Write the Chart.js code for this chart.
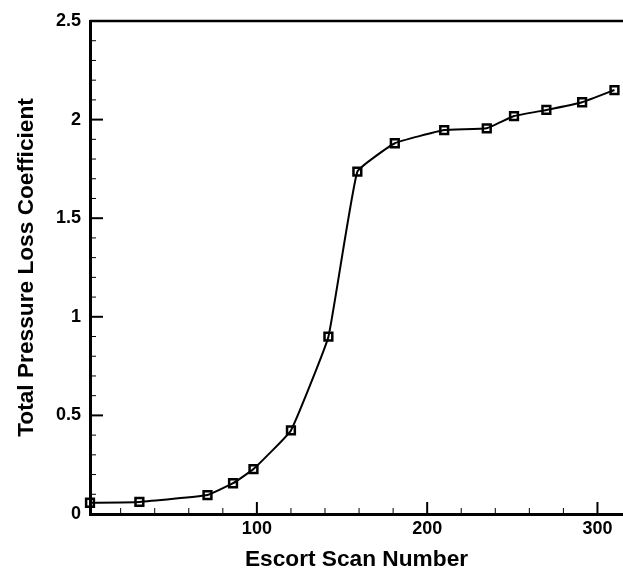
<!DOCTYPE html>
<html>
<head>
<meta charset="utf-8">
<script src="https://cdn.jsdelivr.net/npm/chart.js@4.4.1/dist/chart.umd.min.js"></script>
<style>
  html, body { margin: 0; padding: 0; background: #fff; }
  #wrap { width: 623px; height: 572px; }
</style>
</head>
<body>
<div id="wrap"><canvas id="chart"></canvas></div>
<script>
// values
const scanNumbers = [2, 31, 71, 86, 98, 120, 142, 159, 181, 210, 235, 251, 270, 291, 310];
const lossCoeff = [0.057, 0.061, 0.096, 0.156, 0.228, 0.424, 0.899, 1.736, 1.880, 1.947, 1.956, 2.018, 2.049, 2.088, 2.150];

const xTicks = [100, 200, 300];
const yTicks = [0, 0.5, 1, 1.5, 2, 2.5];
const yTickLabels = ['0', '0.5', '1', '1.5', '2', '2.5'];

const xMinorStep = 20;
const yMinorStep = 0.1;

const tickFont = { family: 'Liberation Sans, Arial, sans-serif', size: 18, weight: 'bold' };
const titleFont = { family: 'Liberation Sans, Arial, sans-serif', size: 22.7, weight: 'bold', lineHeight: 1 };

// tecplot style ticks pointing into the plot + top frame line
const innerTicks = {
  id: 'innerTicks',
  afterDraw(chart) {
    const { ctx, chartArea: a, scales: { x, y } } = chart;
    ctx.save();
    ctx.strokeStyle = '#000';
    ctx.lineCap = 'butt';

    // top frame
    ctx.lineWidth = 2.5;
    ctx.beginPath();
    ctx.moveTo(a.left, a.top);
    ctx.lineTo(a.right, a.top);
    ctx.stroke();

    // x ticks
    for (let v = 0; v <= x.max; v += xMinorStep) {
      if (v < x.min) continue;
      const px = x.getPixelForValue(v);
      const major = xTicks.includes(v);
      ctx.lineWidth = major ? 2 : 1;
      ctx.beginPath();
      ctx.moveTo(px, a.bottom);
      ctx.lineTo(px, a.bottom - (major ? 12 : 6));
      ctx.stroke();
    }

    // y ticks
    for (let i = 0; i * yMinorStep <= y.max + 1e-9; i++) {
      const v = +(i * yMinorStep).toFixed(2);
      const py = y.getPixelForValue(v);
      const major = yTicks.includes(v);
      ctx.lineWidth = major ? 2 : 1;
      ctx.beginPath();
      ctx.moveTo(a.left, py);
      ctx.lineTo(a.left + (major ? 13 : 6), py);
      ctx.stroke();
    }
    ctx.restore();
  }
};

new Chart(document.getElementById('chart'), {
  type: 'line',
  data: {
    datasets: [{
      data: scanNumbers.map((s, i) => ({ x: s, y: lossCoeff[i] })),
      borderColor: '#000',
      borderWidth: 2,
      tension: 0.1,
      pointStyle: 'rect',
      pointRadius: 5.5,
      pointBorderWidth: 2.5,
      pointBorderColor: '#000',
      pointBackgroundColor: 'rgba(0,0,0,0)',
      clip: false
    }]
  },
  options: {
    responsive: true,
    maintainAspectRatio: false,
    animation: false,
    layout: { autoPadding: false, padding: { top: 21, right: 0, left: 0, bottom: 0 } },
    plugins: { legend: { display: false }, tooltip: { enabled: false } },
    scales: {
      x: {
        type: 'linear',
        min: 2,
        max: 315,
        afterBuildTicks: s => { s.ticks = xTicks.map(v => ({ value: v })); },
        afterFit: s => { s.height = 58; s.paddingLeft = 0; s.paddingRight = 0; },
        grid: { display: false, drawTicks: false },
        border: { display: true, color: '#000', width: 3 },
        ticks: { color: '#000', font: tickFont, padding: 4, maxRotation: 0 },
        title: {
          display: true,
          text: 'Escort Scan Number',
          color: '#000',
          font: titleFont,
          padding: { top: 1, bottom: 1 }
        }
      },
      y: {
        type: 'linear',
        min: 0,
        max: 2.5,
        afterBuildTicks: s => { s.ticks = yTicks.map(v => ({ value: v })); },
        afterFit: s => { s.width = 90; },
        grid: { display: false, drawTicks: false },
        border: { display: true, color: '#000', width: 3 },
        ticks: {
          color: '#000',
          font: tickFont,
          padding: 9,
          callback: v => yTickLabels[yTicks.indexOf(v)]
        },
        title: {
          display: true,
          text: 'Total Pressure Loss Coefficient',
          color: '#000',
          font: titleFont,
          padding: { top: 15, bottom: 15 }
        }
      }
    }
  },
  plugins: [innerTicks]
});
</script>
</body>
</html>
